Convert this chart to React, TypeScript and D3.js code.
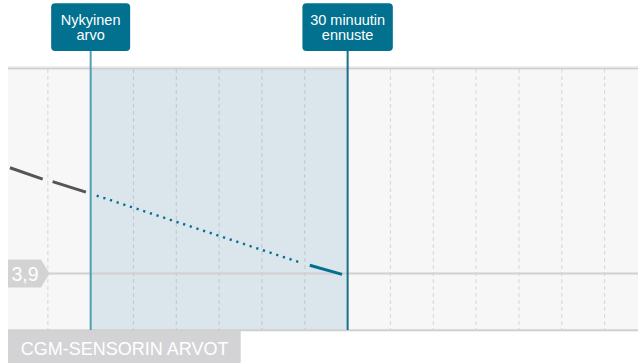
import React from "react";
import * as d3 from "d3";

// ---- data (minutes relative to now, glucose mmol/L) ----
const gridTicks = [-5, 0, 5, 10, 15, 20, 25, 30, 35, 40, 45, 50, 55, 60];
const historySeg1Times = [-9.42, -5.6];
const historySeg1Values = [6.33, 6.07];
const historySeg2Times = [-4.44, -0.55];
const historySeg2Values = [6.01, 5.77];
const forecastDottedTimes = [0.7, 24.33];
const forecastDottedValues = [5.69, 4.16];
const forecastSolidTimes = [25.58, 29.35];
const forecastSolidValues = [4.09, 3.88];
const nowTime = 0;
const forecastTime = 30;
const thresholdValue = 3.9;
const thresholdLabel = "3,9";
const nowLabel = ["Nykyinen", "arvo"];
const forecastLabel = ["30 minuutin", "ennuste"];
const bottomLabel = "CGM-SENSORIN ARVOT";

const W = 638;
const H = 363;
const left = 8;
const right = 638;
const top = 69;
const bottom = 330;

const TEAL = "#02708f";
const FONT = "Liberation Sans";

export default function App() {
  const x = d3.scaleLinear().domain([-9.65, 63.9]).range([left, right]);
  const y = d3.scaleLinear().domain([2.6, 8.6]).range([bottom, top]);
  const line = d3
    .line<[number, number]>()
    .x((d) => x(d[0]))
    .y((d) => y(d[1]));
  const pts = (t: number[], v: number[]) => t.map((tt, i) => [tt, v[i]] as [number, number]);

  const xNow = x(nowTime);
  const xFc = x(forecastTime);
  const yTh = y(thresholdValue);

  const box = (cx: number, w: number, lines: string[], key: string) => (
    <g key={key}>
      <rect x={cx - w / 2} y={3.3} width={w} height={47.7} rx={4} fill={TEAL} />
      {lines.map((l, i) => (
        <text
          key={i}
          x={cx}
          y={25.3 + i * 15}
          textAnchor="middle"
          fill="#fff"
          fontSize={14.5}
          fontFamily={FONT}
        >
          {l}
        </text>
      ))}
    </g>
  );

  return (
    <svg
      width={W}
      height={H}
      style={{ position: "absolute", left: 0, top: 0 }}
      xmlns="http://www.w3.org/2000/svg"
    >
      <rect x={0} y={0} width={W} height={H} fill="#fff" />
      {/* top band */}
      <rect x={left} y={66} width={right - left} height={2} fill="#efefef" />
      {/* plot background */}
      <rect x={left} y={top} width={right - left} height={bottom - top} fill="#f7f7f7" />
      {/* forecast window */}
      <rect x={xNow} y={top} width={xFc - xNow} height={bottom - top} fill="#dbe5ec" />
      {/* grid */}
      {gridTicks.map((t) => (
        <line
          key={t}
          x1={x(t)}
          x2={x(t)}
          y1={top}
          y2={bottom}
          stroke="rgba(0,0,0,0.11)"
          strokeWidth={1.2}
          strokeDasharray="4 3"
        />
      ))}
      {/* top and bottom border */}
      <rect x={left} y={67.7} width={right - left} height={1.7} fill="#cfcfcf" />
      <rect x={left} y={329.3} width={right - left} height={2} fill="#d0d0d0" />
      {/* threshold */}
      <line x1={45} x2={right} y1={yTh} y2={yTh} stroke="#d0d0d0" strokeWidth={2} />
      <path
        d={`M${left},${yTh - 14} L${left + 33},${yTh - 14} L${left + 41.5},${yTh} L${left + 33},${yTh + 14} L${left},${yTh + 14} Z`}
        fill="#d3d3d3"
      />
      <text x={11.5} y={yTh + 7.2} fill="#fff" fontSize={19.5} fontFamily={FONT}>
        {thresholdLabel}
      </text>
      {/* history */}
      <path d={line(pts(historySeg1Times, historySeg1Values)) || ""} stroke="#555" strokeWidth={3} fill="none" />
      <path d={line(pts(historySeg2Times, historySeg2Values)) || ""} stroke="#555" strokeWidth={3} fill="none" />
      {/* forecast */}
      <path
        d={line(pts(forecastDottedTimes, forecastDottedValues)) || ""}
        stroke={TEAL}
        strokeWidth={2.4}
        strokeDasharray="2.2 4.8"
        fill="none"
      />
      <path d={line(pts(forecastSolidTimes, forecastSolidValues)) || ""} stroke={TEAL} strokeWidth={3} fill="none" />
      {/* marker lines */}
      <line x1={xNow} x2={xNow} y1={51} y2={bottom} stroke="#4f9fb7" strokeWidth={2} />
      <line x1={xFc} x2={xFc} y1={51} y2={bottom} stroke="#1a6f8b" strokeWidth={2} />
      {box(xNow, 79, nowLabel, "now")}
      {box(xFc, 90.4, forecastLabel, "fc")}
      {/* bottom label */}
      <rect x={left} y={331} width={232.7} height={H - 331} fill="#d3d3d5" />
      <text x={20.7} y={354.5} fill="#fff" fontSize={18} fontFamily={FONT}>
        {bottomLabel}
      </text>
    </svg>
  );
}
